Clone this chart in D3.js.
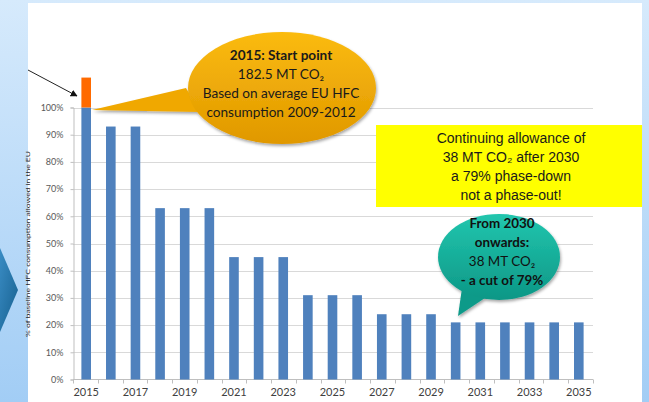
<!DOCTYPE html>
<html>
<head>
<meta charset="utf-8">
<script src="https://cdn.jsdelivr.net/npm/d3@7"></script>
<style>
  body { margin: 0; padding: 0; overflow: hidden; }
  svg { display: block; }
</style>
</head>
<body>
<div id="chart-container"></div>
<script>
// chart data
var years = ["2015","2016","2017","2018","2019","2020","2021","2022","2023","2024","2025",
             "2026","2027","2028","2029","2030","2031","2032","2033","2034","2035"];
var allowance = [100, 93, 93, 63, 63, 63, 45, 45, 45, 31, 31, 31, 24, 24, 24, 21, 21, 21, 21, 21, 21];
var startExtra = [11, 0, 0, 0, 0, 0, 0, 0, 0, 0, 0, 0, 0, 0, 0, 0, 0, 0, 0, 0, 0];
var xTickLabels = ["2015","2017","2019","2021","2023","2025","2027","2029","2031","2033","2035"];
var yTicks = [0, 10, 20, 30, 40, 50, 60, 70, 80, 90, 100];

var bubble1 = ["2015: Start point", "182.5 MT CO\u2082", "Based on average EU HFC", "consumption 2009-2012"];
var boxLines = ["Continuing allowance of", "38 MT CO\u2082 after 2030", "a 79% phase-down", "not a phase-out!"];
var bubble2 = ["From 2030", "onwards:", "38 MT CO\u2082", "- a cut of 79%"];

const w = 649, h = 402;

const svg = d3.select("#chart-container").append("svg")
              .attr("width", w).attr("height", h);

const defs = svg.append("defs");
const bg = defs.append("linearGradient").attr("id", "bg").attr("x1", 0).attr("y1", 0).attr("x2", 0).attr("y2", 1);
bg.append("stop").attr("offset", "0%").attr("stop-color", "#d6eafc");
bg.append("stop").attr("offset", "100%").attr("stop-color", "#a2cdf5");
const og = defs.append("linearGradient").attr("id", "og").attr("x1", 0).attr("y1", 0).attr("x2", 0).attr("y2", 1);
og.append("stop").attr("offset", "0%").attr("stop-color", "#fbbb10");
og.append("stop").attr("offset", "100%").attr("stop-color", "#e09800");
const tg = defs.append("linearGradient").attr("id", "tg").attr("x1", 0).attr("y1", 0).attr("x2", 0).attr("y2", 1);
tg.append("stop").attr("offset", "0%").attr("stop-color", "#22c6ae");
tg.append("stop").attr("offset", "100%").attr("stop-color", "#0c9786");
const dg = defs.append("linearGradient").attr("id", "dg").attr("x1", 0).attr("y1", 0).attr("x2", 1).attr("y2", 1);
dg.append("stop").attr("offset", "0%").attr("stop-color", "#3a8cc4");
dg.append("stop").attr("offset", "100%").attr("stop-color", "#16608f");
const sh = defs.append("filter").attr("id", "sh").attr("x", "-20%").attr("y", "-20%").attr("width", "140%").attr("height", "150%");
sh.append("feDropShadow").attr("dx", 1).attr("dy", 2).attr("stdDeviation", 1.5).attr("flood-opacity", 0.35);
defs.append("marker").attr("id", "arr").attr("viewBox", "0 0 10 10")
    .attr("refX", 9).attr("refY", 5).attr("markerWidth", 7).attr("markerHeight", 7)
    .attr("orient", "auto")
  .append("path").attr("d", "M0,0 L10,5 L0,10 z").attr("fill", "#111");

// background + slide panel
svg.append("rect").attr("width", w).attr("height", h).attr("fill", "url(#bg)");
svg.append("polygon").attr("points", "0,248 18,290 0,332").attr("fill", "url(#dg)");
svg.append("rect").attr("x", 28).attr("y", 3).attr("width", 614).attr("height", h).attr("fill", "#fff");

const xScale = d3.scaleBand().domain(years).range([74, 591]).paddingInner(0.61).paddingOuter(0.3);
const yScale = d3.scaleLinear().domain([0, 100]).range([379.5, 107.5]);

// gridlines
svg.append("g")
   .selectAll("line").data(yTicks.slice(1)).enter().append("line")
   .attr("x1", 73).attr("x2", 593)
   .attr("y1", d => Math.round(yScale(d)) + 0.5).attr("y2", d => Math.round(yScale(d)) + 0.5)
   .attr("stroke", "#d9d9d9").attr("stroke-width", 1);

// y axis
const yAxis = d3.axisLeft(yScale).tickValues(yTicks).tickSize(3).tickPadding(7)
                .tickFormat(d => d + "%");
svg.append("g").attr("id", "y-axis").attr("transform", "translate(73.5,0)").call(yAxis);

// x axis
const xAxis = d3.axisBottom(xScale).tickSize(0).tickPadding(9)
                .tickFormat(d => xTickLabels.indexOf(d) >= 0 ? d : "");
svg.append("g").attr("id", "x-axis").attr("transform", "translate(0,379.5)").call(xAxis);
svg.select("#x-axis").select(".domain").attr("d", "M73,0H593");
// category boundary ticks
svg.select("#x-axis").selectAll(".bnd").data(d3.range(years.length + 1)).enter().append("line")
   .attr("class", "bnd")
   .attr("x1", i => Math.round(73 + i * 520 / years.length) + 0.5)
   .attr("x2", i => Math.round(73 + i * 520 / years.length) + 0.5)
   .attr("y1", 0).attr("y2", 4).attr("stroke", "#bfbfbf");

svg.selectAll("#x-axis .domain, #y-axis .domain").attr("stroke", "#bfbfbf");
svg.selectAll("#y-axis .tick line").attr("stroke", "#bfbfbf");
svg.selectAll(".tick text").attr("fill", "#595959").style("font-family", "Lato, 'Open Sans', sans-serif");
svg.selectAll("#y-axis .tick text").style("font-size", "9px");
svg.selectAll("#x-axis .tick text").style("font-size", "11px").attr("fill", "#404040");

// bars
svg.selectAll("rect.bar").data(allowance).enter().append("rect")
   .attr("class", "bar")
   .attr("fill", "#4f81bd")
   .attr("x", (d, i) => xScale(years[i]))
   .attr("y", d => yScale(d))
   .attr("width", xScale.bandwidth())
   .attr("height", d => yScale(0) - yScale(d));

svg.selectAll("rect.extra").data(startExtra.filter(d => d > 0)).enter().append("rect")
   .attr("class", "extra")
   .attr("fill", "#ff6a00")
   .attr("x", (d, i) => xScale(years[i]))
   .attr("y", (d, i) => yScale(allowance[i] + d))
   .attr("width", xScale.bandwidth())
   .attr("height", (d, i) => yScale(allowance[i]) - yScale(allowance[i] + d));

// y axis title (tiny, rotated)
svg.append("text")
   .attr("transform", "translate(30,244) rotate(-90)")
   .attr("text-anchor", "middle")
   .attr("textLength", 186).attr("lengthAdjust", "spacingAndGlyphs")
   .style("font-family", "Lato, sans-serif").style("font-size", "5px").attr("fill", "#222")
   .text("% of baseline HFC consumption allowed in the EU");

// pointer arrow to the start bar
svg.append("line").attr("x1", 28).attr("y1", 70).attr("x2", 77).attr("y2", 96)
   .attr("stroke", "#222").attr("stroke-width", 1).attr("marker-end", "url(#arr)");

// orange callout
const b1 = svg.append("g").attr("filter", "url(#sh)");
b1.append("path").attr("d", "M92,110 L186,88 L200,112 Z").attr("fill", "#f0a800");
b1.append("ellipse").attr("cx", 282).attr("cy", 88).attr("rx", 94).attr("ry", 56).attr("fill", "url(#og)");
svg.append("g").selectAll("text").data(bubble1).enter().append("text")
   .attr("x", 281).attr("y", (d, i) => 60 + i * 19)
   .attr("text-anchor", "middle")
   .style("font-family", "Lato, 'Open Sans', sans-serif").style("font-size", "13.6px")
   .style("font-weight", (d, i) => i === 0 ? "bold" : "normal")
   .attr("fill", "#1a1a1a")
   .text(d => d);

// yellow box
svg.append("rect").attr("x", 376).attr("y", 125).attr("width", 266).attr("height", 82).attr("fill", "#ffff00");
svg.append("g").selectAll("text").data(boxLines).enter().append("text")
   .attr("x", 511).attr("y", (d, i) => 143 + i * 19)
   .attr("text-anchor", "middle")
   .style("font-family", "'Liberation Sans', Arial, sans-serif").style("font-size", "14px")
   .attr("fill", "#1a1a1a")
   .text(d => d);

// teal callout
const b2 = svg.append("g").attr("filter", "url(#sh)");
b2.append("path").attr("d", "M462,288 L458,316 L488,296 Z").attr("fill", "#0f9a89");
b2.append("ellipse").attr("cx", 499).attr("cy", 257).attr("rx", 61).attr("ry", 43).attr("fill", "url(#tg)");
svg.append("g").selectAll("text").data(bubble2).enter().append("text")
   .attr("x", 502).attr("y", (d, i) => 228 + i * 19)
   .attr("text-anchor", "middle")
   .style("font-family", "Lato, 'Open Sans', sans-serif").style("font-size", "13.4px")
   .style("font-weight", (d, i) => (i === 2) ? "normal" : "bold")
   .attr("fill", "#111")
   .text(d => d);
</script>
</body>
</html>
